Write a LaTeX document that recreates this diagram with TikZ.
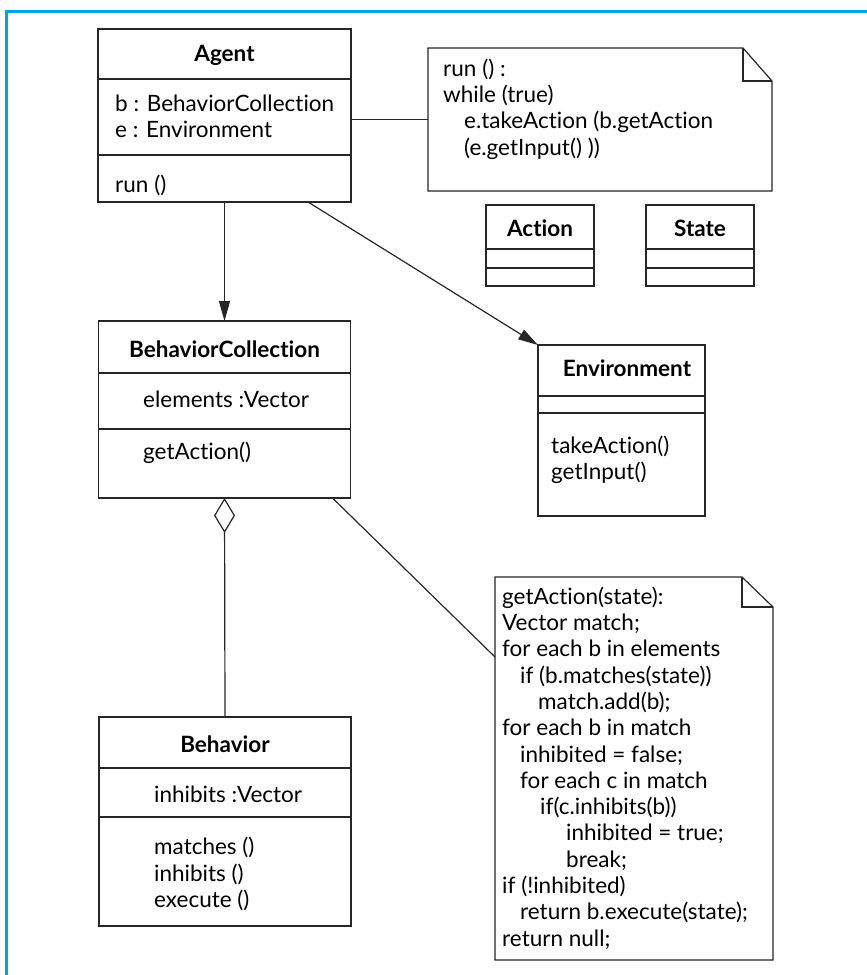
\documentclass[tikz,border=0pt]{standalone}
\usepackage{fontspec}
\setmainfont[Ligatures={NoCommon,NoContextual}]{Lato}
\usetikzlibrary{arrows.meta,calc}
\definecolor{framecyan}{RGB}{0,163,224}
\newcommand{\divline}[2]{\draw[umlline] ([yshift=-#2pt]#1.north west) -- ([yshift=-#2pt]#1.north east);}
\newcommand{\notefold}[3]{%
  \draw[umlline, fill=white] (#1.north west) -- ([xshift=-#2pt]#1.north east) -- ([yshift=-#3pt]#1.north east) -- (#1.south east) -- (#1.south west) -- cycle;
  \draw[umlline] ([xshift=-#2pt]#1.north east) |- ([yshift=-#3pt]#1.north east);}

\begin{document}
\begin{tikzpicture}[x=1pt, y=-1pt,
    every node/.style={font=\fontsize{22.5}{26.3}\selectfont},
    umlline/.style={draw=black!85, line width=1.2pt},
    classbox/.style={umlline, rectangle, inner sep=0pt, outer sep=0pt},
    notebox/.style={rectangle, inner sep=0pt, outer sep=0pt},
    classname/.style={font=\fontsize{22.5}{26.3}\selectfont\bfseries, inner sep=0pt},
    member/.style={align=left, anchor=west, inner sep=0pt},
    link/.style={umlline, line width=1.2pt},
    arrowlink/.style={link, -{Triangle[length=20pt,width=11pt]}}]
  \useasboundingbox (0,0) rectangle (867,975);

  % blue frame
  \draw[framecyan, line width=3pt] (6,975) -- (6,11) -- (867,11);

  %%% classes
  \node[classbox, minimum width=253pt, minimum height=173pt] (agent) at (224.5,115.5) {};
  \divline{agent}{50}
  \divline{agent}{126}
  \node[classname] (agentname) at (224.5,55) {Agent};
  \node[member] (agentattr) at (115,116.5) {b : BehaviorCollection\\e : Environment};
  \node[member] (agentop) at (115,185) {run ()};

  \node[classbox, minimum width=108pt, minimum height=81pt] (action) at (540,245.5) {};
  \divline{action}{44}
  \divline{action}{63}
  \node[classname] (actionname) at (540,228) {Action};

  \node[classbox, minimum width=108pt, minimum height=81pt] (state) at (700,245.5) {};
  \divline{state}{44}
  \divline{state}{63}
  \node[classname] (statename) at (700,228) {State};

  \node[classbox, minimum width=252pt, minimum height=177pt] (bcoll) at (224.5,409.5) {};
  \divline{bcoll}{52}
  \divline{bcoll}{108}
  \node[classname] (bcollname) at (224.5,349) {BehaviorCollection};
  \node[member] (bcollattr) at (143,399) {elements :Vector};
  \node[member] (bcollop) at (143,453) {getAction()};

  \node[classbox, minimum width=167pt, minimum height=171pt] (env) at (621.5,430.5) {};
  \divline{env}{51}
  \divline{env}{68}
  \node[classname] (envname) at (627,368) {Environment};
  \node[member] (envop) at (551,459.5) {takeAction()\\getInput()};

  \node[classbox, minimum width=252pt, minimum height=209pt] (behav) at (225,821.5) {};
  \divline{behav}{51}
  \divline{behav}{100}
  \node[classname] (behavname) at (225,744) {Behavior};
  \node[member] (behavattr) at (154,794) {inhibits :Vector};
  \node[member] (behavop) at (154,874) {matches ()\\inhibits ()\\execute ()};

  %%% notes
  \node[notebox, minimum width=344pt, minimum height=143pt] (runnote) at (600,119.5) {};
  \notefold{runnote}{29}{33}
  \node[member] (runtext) at (443,109) {run () :\\while (true)\\\hspace*{21pt}e.takeAction (b.getAction\\\hspace*{21pt}(e.getInput() ))};

  \node[notebox, minimum width=278pt, minimum height=383pt] (getnote) at (634,768.5) {};
  \notefold{getnote}{31}{30}
  \node[member] (gettext) at (502,768) {getAction(state):\\Vector match;\\for each b in elements\\
    \hspace*{18pt}if (b.matches(state))\\\hspace*{36pt}match.add(b);\\for each b in match\\
    \hspace*{18pt}inhibited = false;\\\hspace*{18pt}for each c in match\\
    \hspace*{38pt}if(c.inhibits(b))\\\hspace*{64pt}inhibited = true;\\\hspace*{64pt}break;\\
    if (!inhibited)\\\hspace*{18pt}return b.execute(state);\\return null;};

  %%% connectors
  \draw[arrowlink] (agent.south) -- (bcoll.north);
  \draw[arrowlink] ([xshift=-43pt]agent.south east) -- (env.north west);
  \draw[link] (runnote.west -| agent.east) -- (runnote.west);
  \draw[link, {Diamond[open,length=35pt,width=21pt,line width=1.2pt]}-] (bcoll.south) -- (behav.north);
  \draw[link] ([xshift=-18pt]bcoll.south east) -- ([yshift=-80pt]getnote.north west);
\end{tikzpicture}
\end{document}
